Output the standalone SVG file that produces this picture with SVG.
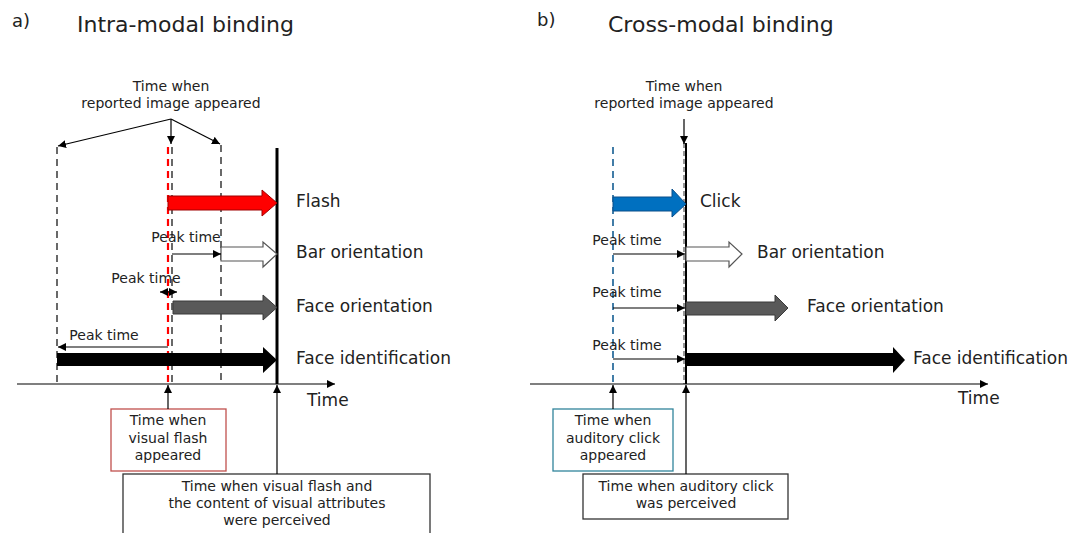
<svg xmlns="http://www.w3.org/2000/svg" width="1083" height="533" viewBox="0 0 1083 533">
<style>
text{font-family:"DejaVu Sans","Liberation Sans",sans-serif;fill:#222}
.t14{font-size:14px}
.t17{font-size:17px}
.title{font-size:22px}
.lab{font-size:18px}
.ln{stroke:#000;stroke-width:1.2;fill:none}
.dash{stroke:#444;stroke-width:1.6;stroke-dasharray:7 5;fill:none}
.box{fill:#fff;stroke:#333;stroke-width:1.3}
</style>
<defs>
<marker id="ah" viewBox="0 0 10 10" refX="10" refY="5" markerWidth="8" markerHeight="8" markerUnits="userSpaceOnUse" orient="auto-start-reverse">
<path d="M0,0 L10,5 L0,10 z" fill="#000"/>
</marker>
</defs>
<rect width="1083" height="533" fill="#fff"/>

<g id="titles">
<text x="12" y="27" class="lab">a)</text>
<text x="77" y="32" class="title">Intra-modal binding</text>
<text x="537" y="26" class="lab">b)</text>
<text x="608" y="32" class="title">Cross-modal binding</text>
</g>

<!-- Panel a -->
<g id="a-reported">
<text x="171" y="91" class="t14" text-anchor="middle">Time when</text>
<text x="171" y="108" class="t14" text-anchor="middle">reported image appeared</text>
</g>
<g id="a-guides">
<line x1="57" y1="147" x2="57" y2="384" class="dash"/>
<line x1="172" y1="147" x2="172" y2="384" class="dash"/>
<line x1="168" y1="147" x2="168" y2="384" stroke="#ff0000" stroke-width="2.2" stroke-dasharray="7 5"/>
<line x1="221" y1="145" x2="221" y2="384" class="dash"/>
<line x1="277" y1="148" x2="277" y2="384" stroke="#000" stroke-width="3"/>
</g>
<g id="a-flash">
<polygon points="168,196 262,196 262,190 277,203 262,216 262,210 168,210" fill="#ff0000" stroke="#a00000" stroke-width="1"/>
<text x="296" y="207" class="t17">Flash</text>
</g>
<g id="a-bar">
<polygon points="221,247 263,247 263,242 277,254 263,267 263,261 221,261" fill="#fff" stroke="#555" stroke-width="1.2"/>
<text x="296" y="258" class="t17">Bar orientation</text>
</g>
<g id="a-faceori">
<polygon points="173,301 263,301 263,295 277,307.5 263,320 263,314 173,314" fill="#595959" stroke="#3a3a3a" stroke-width="1"/>
<text x="296" y="312" class="t17">Face orientation</text>
</g>
<g id="a-faceid">
<polygon points="57,353 263,353 263,347 277,360 263,373 263,366 57,366" fill="#000"/>
<text x="296" y="364" class="t17">Face identification</text>
</g>
<g id="a-peaks">
<text x="186" y="242" class="t14" text-anchor="middle">Peak time</text>
<text x="146" y="283" class="t14" text-anchor="middle">Peak time</text>
<text x="104" y="340" class="t14" text-anchor="middle">Peak time</text>
</g>
<g id="a-axis">
<line x1="17" y1="384" x2="335" y2="384" class="ln" marker-end="url(#ah)"/>
<text x="307" y="406" class="t17">Time</text>
</g>
<g id="a-box1">
<rect x="111" y="409" width="115" height="62" fill="#fff" stroke="#c0504d" stroke-width="1.3"/>
<text x="168" y="425" class="t14" text-anchor="middle">Time when</text>
<text x="168" y="443" class="t14" text-anchor="middle">visual flash</text>
<text x="168" y="460" class="t14" text-anchor="middle">appeared</text>
</g>
<g id="a-box2">
<rect x="123" y="474" width="307" height="70" class="box"/>
<text x="277" y="491" class="t14" text-anchor="middle">Time when visual flash and</text>
<text x="277" y="508" class="t14" text-anchor="middle">the content of visual attributes</text>
<text x="277" y="525" class="t14" text-anchor="middle">were perceived</text>
</g>

<!-- Panel b -->
<g id="b-reported">
<text x="684" y="91" class="t14" text-anchor="middle">Time when</text>
<text x="684" y="108" class="t14" text-anchor="middle">reported image appeared</text>
</g>
<g id="b-guides">
<line x1="613" y1="147" x2="613" y2="384" stroke="#2e6f9e" stroke-width="1.8" stroke-dasharray="7 5"/>
<line x1="686" y1="143" x2="686" y2="384" stroke="#000" stroke-width="2"/>
<line x1="684" y1="143" x2="684" y2="384" stroke="#555" stroke-width="1.2" stroke-dasharray="5 3"/>
</g>
<g id="b-click">
<polygon points="613,197 672,197 672,189 686,204 672,217 672,211 613,211" fill="#0070c0" stroke="#0a4f8a" stroke-width="1"/>
<text x="700" y="207" class="t17">Click</text>
</g>
<g id="b-bar">
<polygon points="686,247 729,247 729,242 742,254 729,267 729,261 686,261" fill="#fff" stroke="#555" stroke-width="1.2"/>
<text x="757" y="258" class="t17">Bar orientation</text>
</g>
<g id="b-faceori">
<polygon points="686,302 775,302 775,295 788,308 775,321 775,315 686,315" fill="#595959" stroke="#3a3a3a" stroke-width="1"/>
<text x="807" y="312" class="t17">Face orientation</text>
</g>
<g id="b-faceid">
<polygon points="686,353 893,353 893,347 905,360 893,373 893,366 686,366" fill="#000"/>
<text x="913" y="364" class="t17">Face identification</text>
</g>
<g id="b-peaks">
<text x="627" y="245" class="t14" text-anchor="middle">Peak time</text>
<text x="627" y="297" class="t14" text-anchor="middle">Peak time</text>
<text x="627" y="350" class="t14" text-anchor="middle">Peak time</text>
</g>
<g id="b-axis">
<line x1="530" y1="384" x2="988" y2="384" class="ln" marker-end="url(#ah)"/>
<text x="958" y="404" class="t17">Time</text>
</g>
<g id="b-box1">
<rect x="553" y="409" width="120" height="62" fill="#fff" stroke="#31849b" stroke-width="1.3"/>
<text x="613" y="425" class="t14" text-anchor="middle">Time when</text>
<text x="613" y="443" class="t14" text-anchor="middle">auditory click</text>
<text x="613" y="460" class="t14" text-anchor="middle">appeared</text>
</g>
<g id="b-box2">
<rect x="583" y="474" width="205" height="45" class="box"/>
<text x="686" y="491" class="t14" text-anchor="middle">Time when auditory click</text>
<text x="686" y="508" class="t14" text-anchor="middle">was perceived</text>
</g>

<g id="connectors">
<line x1="171" y1="119" x2="58" y2="146" class="ln" marker-end="url(#ah)"/>
<line x1="171" y1="119" x2="171" y2="144" class="ln" marker-end="url(#ah)"/>
<line x1="171" y1="119" x2="220" y2="144" class="ln" marker-end="url(#ah)"/>
<line x1="172" y1="254" x2="221" y2="254" class="ln" marker-end="url(#ah)"/>
<line x1="160" y1="292" x2="177" y2="292" class="ln" marker-start="url(#ah)" marker-end="url(#ah)"/>
<line x1="168" y1="347" x2="58" y2="347" class="ln" marker-end="url(#ah)"/>
<line x1="168" y1="409" x2="168" y2="385" class="ln" marker-end="url(#ah)"/>
<line x1="277" y1="474" x2="277" y2="385" class="ln" marker-end="url(#ah)"/>
<line x1="684" y1="119" x2="684" y2="144" class="ln" marker-end="url(#ah)"/>
<line x1="613" y1="254" x2="685" y2="254" class="ln" marker-end="url(#ah)"/>
<line x1="613" y1="308" x2="685" y2="308" class="ln" marker-end="url(#ah)"/>
<line x1="613" y1="359" x2="685" y2="359" class="ln" marker-end="url(#ah)"/>
<line x1="613" y1="409" x2="613" y2="385" class="ln" marker-end="url(#ah)"/>
<line x1="686" y1="474" x2="686" y2="385" class="ln" marker-end="url(#ah)"/>
</g>
</svg>
